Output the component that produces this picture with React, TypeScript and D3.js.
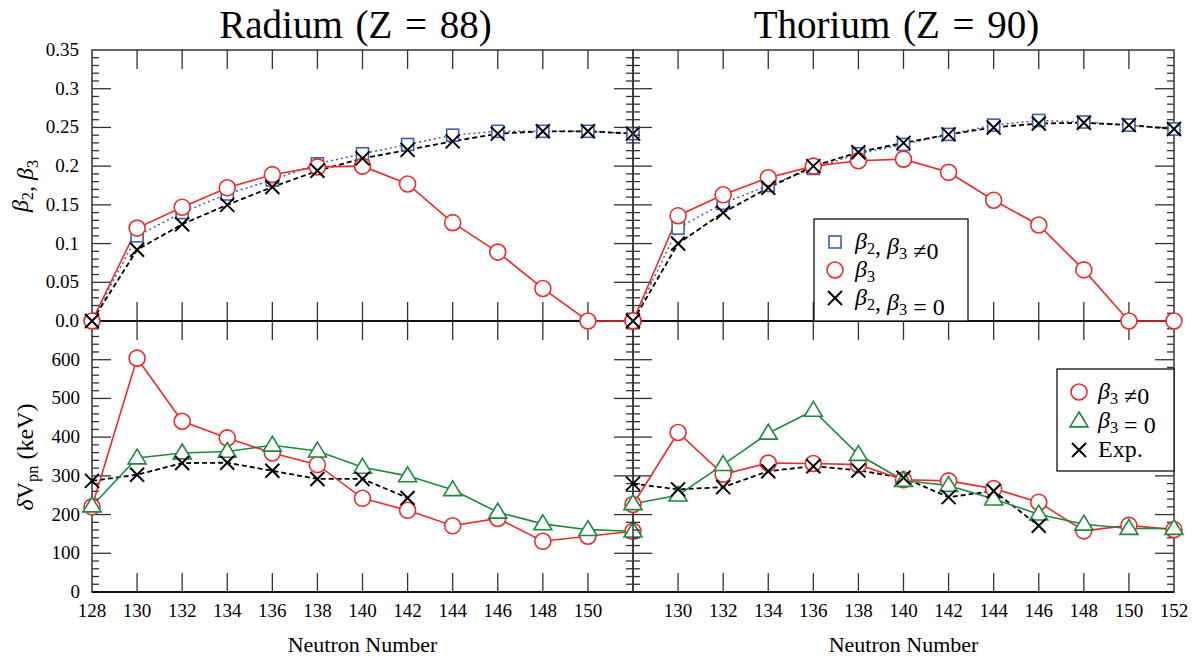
import React, { useEffect, useRef } from "react";
import * as d3 from "d3";

// neutron numbers (x positions of all points)
const neutrons = [128, 130, 132, 134, 136, 138, 140, 142, 144, 146, 148, 150, 152];

// deformations, Radium
const raBeta2Oct = [0, 0.11, 0.14, 0.164, 0.182, 0.203, 0.216, 0.228, 0.24, 0.245, 0.245, 0.245, 0.242];
const raBeta3 = [0, 0.12, 0.147, 0.172, 0.189, 0.199, 0.2, 0.177, 0.127, 0.089, 0.042, 0, 0];
const raBeta2Quad = [0, 0.092, 0.125, 0.15, 0.173, 0.194, 0.21, 0.221, 0.232, 0.242, 0.245, 0.245, 0.242];

// deformations, Thorium
const thBeta2Oct = [0, 0.12, 0.152, 0.175, 0.197, 0.216, 0.228, 0.241, 0.253, 0.259, 0.257, 0.253, 0.248];
const thBeta3 = [0, 0.136, 0.163, 0.185, 0.2, 0.207, 0.209, 0.192, 0.156, 0.124, 0.066, 0, 0];
const thBeta2Quad = [0, 0.1, 0.14, 0.172, 0.2, 0.218, 0.23, 0.241, 0.25, 0.255, 0.256, 0.253, 0.248];

// dVpn (keV), Radium
const raDvOct = [220, 604, 441, 398, 359, 329, 242, 211, 171, 190, 131, 144, 157];
const raDvQuad = [222, 346, 359, 363, 379, 364, 322, 300, 264, 206, 176, 161, 157];
const raDvExp = [287, 303, 333, 334, 313, 292, 292, 243];

// dVpn (keV), Thorium
const thDvOct = [226, 412, 304, 333, 332, 329, 290, 287, 267, 232, 158, 172, 161];
const thDvQuad = [228, 250, 329, 410, 469, 355, 288, 275, 240, 201, 175, 164, 164];
const thDvExp = [280, 265, 271, 312, 325, 314, 295, 245, 261, 171];

// tick labels
const betaTicks = [0, 0.05, 0.1, 0.15, 0.2, 0.25, 0.3, 0.35];
const betaTickLabels = ["0.0", "0.05", "0.1", "0.15", "0.2", "0.25", "0.3", "0.35"];
const dvTicks = [0, 100, 200, 300, 400, 500, 600];
const leftXLabels = [128, 130, 132, 134, 136, 138, 140, 142, 144, 146, 148, 150];
const rightXLabels = [130, 132, 134, 136, 138, 140, 142, 144, 146, 148, 150, 152];
const titles = ["Radium (Z = 88)", "Thorium (Z = 90)"];

const RED = "#ee2a2a";
const BLUE = "#3d5fb0";
const GREEN = "#1b8a3e";
const FONT = "'Liberation Serif', 'DejaVu Serif', serif";

function App() {
  const ref = useRef<SVGSVGElement>(null);

  useEffect(() => {
    const svg = d3.select(ref.current);
    svg.selectAll("*").remove();

    const panelsX = [
      [92, 633],
      [633, 1174],
    ];
    const topY = [50, 321];
    const botY = [321, 592];

    const yBeta = d3.scaleLinear().domain([0, 0.35]).range([topY[1], topY[0]]);
    const yDv = d3.scaleLinear().domain([0, 700]).range([botY[1], botY[0]]);

    const addBeta = (t: any, sub: string) => {
      t.append("tspan").attr("font-style", "italic").text("β");
      t.append("tspan").attr("dy", 5).attr("font-size", "0.68em").text(sub);
      t.append("tspan").attr("dy", -5).text("");
    };

    const drawMarkers = (g: any, x: any, y: any, vals: number[], kind: string, color: string) => {
      const pts = vals.map((v, i) => [x(neutrons[i]), y(v)]);
      pts.forEach(([px, py]) => drawMarker(g, px, py, kind, color));
    };

    const drawMarker = (g: any, px: number, py: number, kind: string, color: string) => {
      if (kind === "circle") {
        g.append("circle").attr("cx", px).attr("cy", py).attr("r", 8)
          .attr("fill", "white").attr("stroke", color).attr("stroke-width", 1.6);
      } else if (kind === "square") {
        g.append("rect").attr("x", px - 6).attr("y", py - 6).attr("width", 12).attr("height", 12)
          .attr("fill", "white").attr("stroke", color).attr("stroke-width", 1.6);
      } else if (kind === "triangle") {
        const s = 9;
        g.append("path")
          .attr("d", `M${px},${py - s}L${px + s},${py + s * 0.65}L${px - s},${py + s * 0.65}Z`)
          .attr("fill", "white").attr("stroke", color).attr("stroke-width", 1.6);
      } else {
        const s = 7;
        g.append("path")
          .attr("d", `M${px - s},${py - s}L${px + s},${py + s}M${px - s},${py + s}L${px + s},${py - s}`)
          .attr("fill", "none").attr("stroke", color).attr("stroke-width", 2);
      }
    };

    const drawLine = (g: any, x: any, y: any, vals: number[], color: string, dash: string | null, w: number) => {
      const line = d3.line<number>().x((d, i) => x(neutrons[i])).y(d => y(d));
      g.append("path").attr("d", line(vals)).attr("fill", "none")
        .attr("stroke", color).attr("stroke-width", w)
        .attr("stroke-dasharray", dash);
    };

    const frame = (g: any, x0: number, x1: number, y0: number, y1: number) => {
      g.append("rect").attr("x", x0).attr("y", y0).attr("width", x1 - x0).attr("height", y1 - y0)
        .attr("fill", "none").attr("stroke", "#333").attr("stroke-width", 1.5);
    };

    panelsX.forEach(([x0, x1], p) => {
      const x = d3.scaleLinear().domain([128, 152]).range([x0, x1]);
      const g = svg.append("g");

      // ticks
      const tg = g.append("g").attr("stroke", "#333").attr("stroke-width", 1.3);
      d3.range(130, 152, 2).forEach(n => {
        const px = x(n);
        [topY, botY].forEach(([a, b]) => {
          tg.append("line").attr("x1", px).attr("x2", px).attr("y1", a).attr("y2", a + 19);
          tg.append("line").attr("x1", px).attr("x2", px).attr("y1", b).attr("y2", b - 19);
        });
      });
      const yTicks = (scale: any, lo: number, hi: number, step: number, majorEvery: number) => {
        const n = Math.round((hi - lo) / step);
        for (let i = 1; i < n; i++) {
          const v = lo + i * step;
          const py = scale(v);
          const len = i % majorEvery === 0 ? 19 : 7;
          tg.append("line").attr("x1", x0).attr("x2", x0 + len).attr("y1", py).attr("y2", py);
          tg.append("line").attr("x1", x1).attr("x2", x1 - len).attr("y1", py).attr("y2", py);
        }
      };
      yTicks(yBeta, 0, 0.35, 0.01, 5);
      yTicks(yDv, 0, 700, 20, 5);

      frame(g, x0, x1, topY[0], topY[1]);
      frame(g, x0, x1, botY[0], botY[1]);
      g.append("line").attr("x1", x0).attr("x2", x1).attr("y1", topY[1]).attr("y2", topY[1])
        .attr("stroke", "#111").attr("stroke-width", 2);
      g.append("line").attr("x1", x0).attr("x2", x1).attr("y1", botY[1]).attr("y2", botY[1])
        .attr("stroke", "#111").attr("stroke-width", 2);

      // top panel data
      const b2o = p === 0 ? raBeta2Oct : thBeta2Oct;
      const b3 = p === 0 ? raBeta3 : thBeta3;
      const b2q = p === 0 ? raBeta2Quad : thBeta2Quad;
      drawLine(g, x, yBeta, b2o, BLUE, "2,3", 1.5);
      drawLine(g, x, yBeta, b2q, "#000", "5,3", 1.8);
      drawLine(g, x, yBeta, b3, RED, null, 1.6);
      drawMarkers(g, x, yBeta, b2o, "square", BLUE);
      drawMarkers(g, x, yBeta, b3, "circle", RED);
      drawMarkers(g, x, yBeta, b2q, "x", "#000");

      // bottom panel data
      const dvo = p === 0 ? raDvOct : thDvOct;
      const dvq = p === 0 ? raDvQuad : thDvQuad;
      const dve = p === 0 ? raDvExp : thDvExp;
      drawLine(g, x, yDv, dve, "#000", "5,3", 1.8);
      drawLine(g, x, yDv, dvo, RED, null, 1.6);
      drawLine(g, x, yDv, dvq, GREEN, null, 1.6);
      drawMarkers(g, x, yDv, dvo, "circle", RED);
      drawMarkers(g, x, yDv, dvq, "triangle", GREEN);
      drawMarkers(g, x, yDv, dve, "x", "#000");

      // x labels
      const labels = p === 0 ? leftXLabels : rightXLabels;
      g.selectAll(null).data(labels).join("text")
        .attr("x", d => x(d)).attr("y", 617).attr("text-anchor", "middle")
        .attr("font-family", FONT).attr("font-size", 19).text(d => d);

      g.append("text").attr("x", (x0 + x1) / 2).attr("y", 652).attr("text-anchor", "middle")
        .attr("font-family", FONT).attr("font-size", 22).text("Neutron Number");

      g.append("text").attr("x", (x0 + x1) / 2 - 7).attr("y", 38).attr("text-anchor", "middle")
        .attr("font-family", FONT).attr("font-size", 39).attr("word-spacing", 3).text(titles[p]);
    });

    // y tick labels
    svg.append("g").selectAll("text").data(betaTicks).join("text")
      .attr("x", 79).attr("y", d => yBeta(d) + 6).attr("text-anchor", "end")
      .attr("font-family", FONT).attr("font-size", 19)
      .text((d, i) => betaTickLabels[i]);
    svg.append("g").selectAll("text").data(dvTicks).join("text")
      .attr("x", 80).attr("y", d => yDv(d) + 6).attr("text-anchor", "end")
      .attr("font-family", FONT).attr("font-size", 19).text(d => d);

    // y axis titles
    const yl1 = svg.append("text").attr("transform", "translate(28,186) rotate(-90)")
      .attr("text-anchor", "middle").attr("font-family", FONT).attr("font-size", 24);
    addBeta(yl1, "2");
    yl1.append("tspan").text(", ");
    addBeta(yl1, "3");

    const yl2 = svg.append("text").attr("transform", "translate(33,457) rotate(-90)")
      .attr("text-anchor", "middle").attr("font-family", FONT).attr("font-size", 24);
    yl2.append("tspan").attr("font-style", "italic").text("δ");
    yl2.append("tspan").text("V");
    yl2.append("tspan").attr("dy", 5).attr("font-size", "0.68em").text("pn");
    yl2.append("tspan").attr("dy", -5).text(" (keV)");

    // legend, top
    const lg1 = svg.append("g");
    lg1.append("rect").attr("x", 814).attr("y", 219).attr("width", 154).attr("height", 102)
      .attr("fill", "white").attr("stroke", "#111").attr("stroke-width", 1.3);
    const l1y = [242, 270, 298];
    drawMarker(lg1, 835, l1y[0], "square", BLUE);
    drawMarker(lg1, 835, l1y[1], "circle", RED);
    drawMarker(lg1, 835, l1y[2], "x", "#000");
    const mk = (g: any, yy: number, xx: number) =>
      g.append("text").attr("x", xx).attr("y", yy + 7).attr("font-family", FONT).attr("font-size", 24);
    let t = mk(lg1, l1y[0], 855);
    addBeta(t, "2"); t.append("tspan").text(", "); addBeta(t, "3"); t.append("tspan").text(" ≠0");
    t = mk(lg1, l1y[1], 855);
    addBeta(t, "3");
    t = mk(lg1, l1y[2], 855);
    addBeta(t, "2"); t.append("tspan").text(", "); addBeta(t, "3"); t.append("tspan").text(" = 0");

    // legend, bottom
    const lg2 = svg.append("g");
    lg2.append("rect").attr("x", 1057).attr("y", 369).attr("width", 117).attr("height", 102)
      .attr("fill", "white").attr("stroke", "#111").attr("stroke-width", 1.3);
    const l2y = [392, 421, 450];
    drawMarker(lg2, 1079, l2y[0], "circle", RED);
    drawMarker(lg2, 1079, l2y[1], "triangle", GREEN);
    drawMarker(lg2, 1079, l2y[2], "x", "#000");
    t = mk(lg2, l2y[0], 1098);
    addBeta(t, "3"); t.append("tspan").text(" ≠0");
    t = mk(lg2, l2y[1], 1098);
    addBeta(t, "3"); t.append("tspan").text(" = 0");
    t = mk(lg2, l2y[2], 1098);
    t.text("Exp.");
  }, []);

  return (
    <svg ref={ref} width={1199} height={656}
      style={{ position: "absolute", left: 0, top: 0, background: "white" }} />
  );
}

export default App;
